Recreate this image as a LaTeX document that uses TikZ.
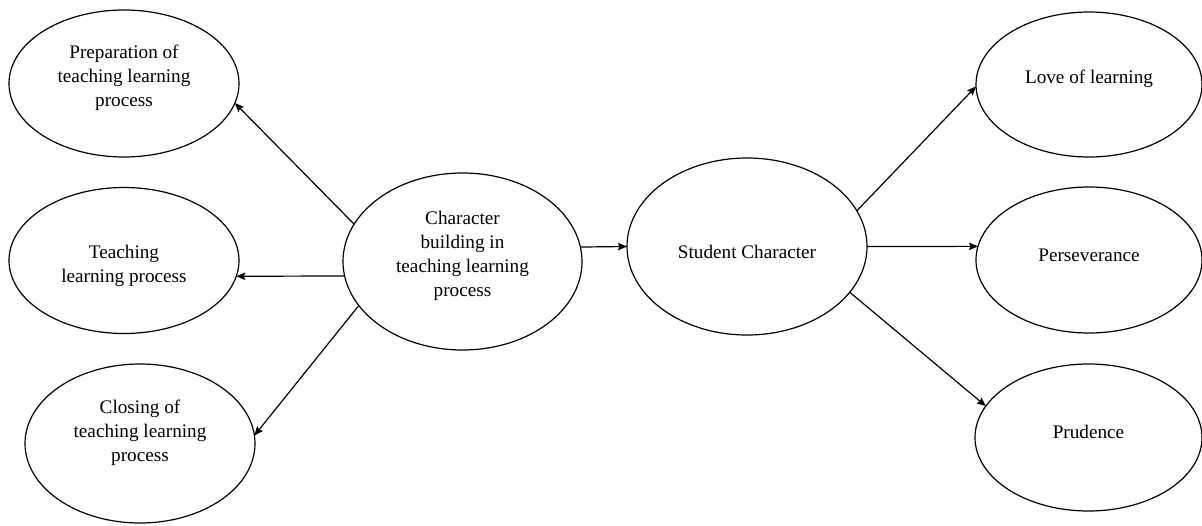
\documentclass[tikz,border=0pt]{standalone}
\usepackage{fontspec}
\setmainfont{Liberation Serif}
\usetikzlibrary{shapes.geometric,arrows.meta}
\begin{document}
\begin{tikzpicture}[x=1pt,y=-1pt,
  oval/.style={draw, line width=1.2pt, ellipse, inner sep=0pt, outer sep=0pt},
  lbl/.style={align=center, inner sep=0pt, font=\fontsize{19.2pt}{24pt}\selectfont},
  link/.style={line width=1.2pt, -{Stealth[length=9pt,width=7.5pt,inset=1.5pt]}}]
\useasboundingbox (0,0) rectangle (1202,525);

% outer ellipses, left column
\node[oval, minimum width=230pt, minimum height=147pt] (prep)  at (124,83.5) {};
\node[oval, minimum width=230pt, minimum height=146pt] (teach) at (124,260.5) {};
\node[oval, minimum width=230pt, minimum height=159pt] (close) at (140,443.5) {};

% central ellipses
\node[oval, minimum width=239pt, minimum height=177pt] (build)   at (462.5,261.5) {};
\node[oval, minimum width=240pt, minimum height=177pt] (student) at (747,246.5) {};

% outer ellipses, right column
\node[oval, minimum width=226pt, minimum height=145pt] (love)  at (1089,84.5) {};
\node[oval, minimum width=226pt, minimum height=146pt] (perse) at (1089,260) {};
\node[oval, minimum width=227pt, minimum height=147pt] (prud)  at (1088.5,437.5) {};

% labels
\node[lbl] (prepT)    at (124,78)    {Preparation of\\teaching learning\\process};
\node[lbl] (teachT)   at (124,266)   {Teaching\\learning process};
\node[lbl] (closeT)   at (140,433)   {Closing of\\teaching learning\\process};
\node[lbl] (buildT)   at (462.5,256) {Character\\building in\\teaching learning\\process};
\node[lbl] (studentT) at (747,252)   {Student Character};
\node[lbl] (loveT)    at (1089,78.5) {Love of learning};
\node[lbl] (perseT)   at (1089,255)  {Perseverance};
\node[lbl] (prudT)    at (1088.5,431.5) {Prudence};

% connectors
\draw[link] (build.161.3)  -- (prep.-10.2);
\draw[link] (build.187.3)  -- (teach.-8.65);
\draw[link] (build.203.4)  -- (close.4.6);
\draw[link] (build.7.3)    -- (student.180);
\draw[link] (student.18.7) -- (love.181.5);
\draw[link] (student.0)    -- (perse.173.3);
\draw[link] (student.-24.1) -- (prud.163.3);
\end{tikzpicture}
\end{document}
